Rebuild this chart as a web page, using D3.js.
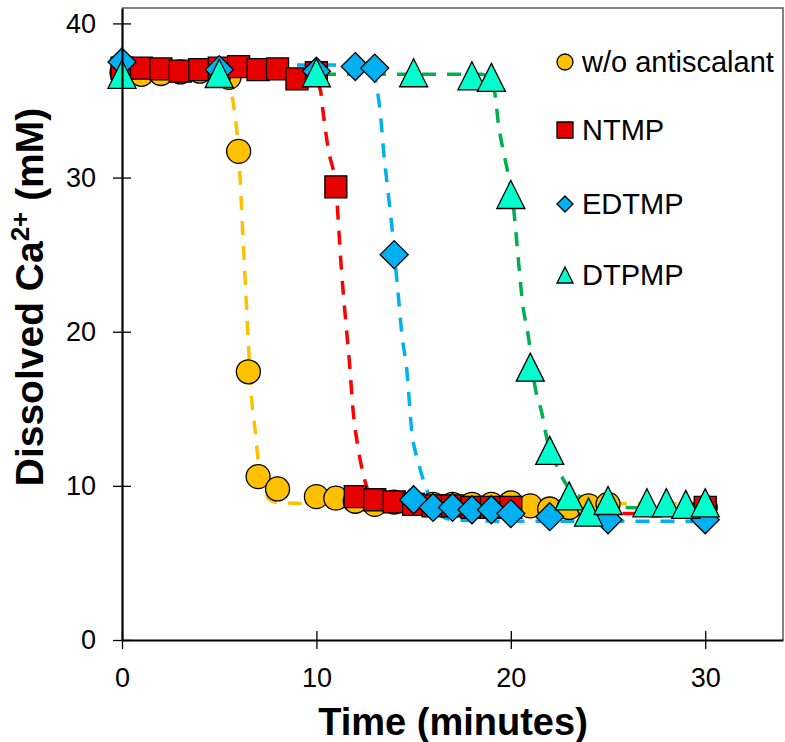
<!DOCTYPE html>
<html>
<head>
<meta charset="utf-8">
<script src="https://cdn.jsdelivr.net/npm/d3@7/dist/d3.min.js"></script>
<style>
  body { margin: 0; background: #fff; }
  svg { display: block; }
  text { font-family: "Liberation Sans", Arial, sans-serif; fill: #000; }
</style>
</head>
<body>
<svg id="chart" width="785" height="742"></svg>
<script>
// ---- data: dissolved Ca2+ (mM) vs time (minutes) ----
const seriesNames = ["w/o antiscalant", "NTMP", "EDTMP", "DTPMP"];
const seriesFill = ["#FFC000", "#E60000", "#00B0F0", "#00FFCC"];
const lineColors = ["#FFC000", "#FF0000", "#00B0F0", "#00B050"];

const xTicks = [0, 10, 20, 30];
const yTicks = [0, 10, 20, 30, 40];

// measured points
const blankTime = [0, 1, 2, 3, 4, 5, 5.5, 6, 6.5, 7, 8, 10, 11, 12, 13, 14, 15, 16, 17, 18, 19, 20, 21, 22, 23, 24, 25, 30];
const blankCa   = [36.8, 36.7, 36.75, 36.85, 36.9, 36.9, 36.5, 31.7, 17.4, 10.6, 9.8, 9.3, 9.2, 9.0, 8.8, 8.95, 8.9, 8.8, 8.8, 8.8, 8.8, 8.9, 8.7, 8.5, 8.6, 8.7, 8.8, 8.6];

const ntmpTime = [0, 1, 2, 3, 4, 5, 6, 7, 8, 9, 10, 11, 12, 13, 14, 15, 16, 17, 18, 19, 20, 30];
const ntmpCa   = [37.1, 37.1, 37.05, 36.9, 37.0, 37.1, 37.2, 37.0, 37.05, 36.4, 36.8, 29.4, 9.3, 9.1, 8.96, 8.8, 8.7, 8.7, 8.6, 8.6, 8.6, 8.6];

const edtmpTime = [0, 5, 10, 12, 13, 14, 15, 16, 17, 18, 19, 20, 22, 25, 30];
const edtmpCa   = [37.5, 37.0, 36.9, 37.2, 37.1, 25.0, 9.1, 8.6, 8.6, 8.45, 8.45, 8.2, 8.0, 7.8, 7.8];

const dtpmpTime = [0, 5, 10, 15, 18, 19, 20, 21, 22, 23, 24, 25, 27, 28, 29, 30];
const dtpmpCa   = [36.7, 36.75, 36.8, 36.8, 36.6, 36.5, 28.9, 17.7, 12.3, 9.35, 8.3, 9.05, 8.9, 8.9, 8.8, 8.9];

// fitted trend curves (dashed)
const blankFitTime = [0, 5, 5.5, 5.7, 6.0, 6.25, 6.5, 6.65, 6.85, 7.0, 7.3, 7.6, 8.1, 10, 15, 20, 30];
const blankFitCa   = [36.7, 36.7, 36.2, 35.0, 31.6, 25.5, 19.3, 15.9, 13.6, 11.7, 9.9, 9.1, 8.9, 8.85, 8.85, 8.85, 8.85];

const ntmpFitTime = [0, 9, 9.8, 10.2, 10.35, 10.6, 11.0, 11.3, 11.5, 11.7, 11.9, 12.1, 12.4, 12.8, 13.5, 15, 20, 30];
const ntmpFitCa   = [36.9, 36.9, 36.6, 35.7, 34.2, 31.9, 29.3, 23.8, 20.8, 18.0, 14.7, 12.8, 10.8, 9.3, 8.6, 8.3, 8.2, 8.2];

const edtmpFitTime = [0, 12, 12.8, 13.1, 13.3, 13.45, 13.7, 13.9, 14.2, 14.4, 14.65, 14.9, 15.25, 15.75, 16.3, 17, 20, 30];
const edtmpFitCa   = [37.3, 37.3, 37.0, 35.9, 34.0, 31.8, 28.9, 26.6, 22.5, 19.8, 17.5, 13.6, 11.5, 9.5, 8.2, 7.8, 7.7, 7.7];

const dtpmpFitTime = [0, 18.5, 19.0, 19.2, 19.35, 19.6, 19.85, 20.1, 20.4, 20.6, 20.9, 21.25, 21.6, 21.85, 22.4, 22.8, 23.9, 25.7, 30];
const dtpmpFitCa   = [36.7, 36.7, 36.2, 35.3, 33.6, 31.8, 30.3, 28.5, 24.5, 21.9, 19.7, 16.4, 14.7, 13.1, 11.2, 10.2, 9.1, 8.6, 8.5];

const zip = (xs, ys) => xs.map((t, i) => ({ t, v: ys[i] }));
const points = [zip(blankTime, blankCa), zip(ntmpTime, ntmpCa), zip(edtmpTime, edtmpCa), zip(dtpmpTime, dtpmpCa)];
const fits = [zip(blankFitTime, blankFitCa), zip(ntmpFitTime, ntmpFitCa), zip(edtmpFitTime, edtmpFitCa), zip(dtpmpFitTime, dtpmpFitCa)];

// ---- layout ----
const svg = d3.select("#chart");
const plot = { left: 122, right: 783, top: 8, bottom: 640 };
const x = d3.scaleLinear().domain([0, 34]).range([plot.left, plot.right]);
const y = d3.scaleLinear().domain([0, 41]).range([plot.bottom, plot.top]);

// frame (top and right)
svg.append("path")
  .attr("d", `M${plot.left},${plot.top}H${plot.right}V${plot.bottom}`)
  .attr("fill", "none").attr("stroke", "#595959").attr("stroke-width", 1.5);

// marker shapes
const shapes = [
  s => `M${-s},0A${s},${s} 0 1,0 ${s},0A${s},${s} 0 1,0 ${-s},0Z`,          // circle
  s => `M${-s},${-s}H${s}V${s}H${-s}Z`,                                        // square
  s => `M0,${-s}L${s},0L0,${s}L${-s},0Z`,                                      // diamond
  s => `M0,${-s}L${s},${s}L${-s},${s}Z`                                        // triangle
];
const plotSize = [12, 11, 14, 14];
const legendSize = [8, 8, 8, 8];

// dashed fit lines
const line = d3.line().x(d => x(d.t)).y(d => y(d.v)).curve(d3.curveMonotoneX);
svg.append("g").selectAll("path").data(fits).join("path")
  .attr("d", line)
  .attr("fill", "none")
  .attr("stroke", (d, i) => lineColors[i])
  .attr("stroke-width", 3.5)
  .attr("stroke-dasharray", "14,11");

// markers
points.forEach((pts, i) => {
  svg.append("g").selectAll("path").data(pts).join("path")
    .attr("transform", d => `translate(${x(d.t)},${y(d.v)})`)
    .attr("d", shapes[i](plotSize[i]))
    .attr("fill", seriesFill[i])
    .attr("stroke", "#000")
    .attr("stroke-width", 1.3);
});

// axes with ticks crossing the axis line
const xAxis = svg.append("g")
  .attr("transform", `translate(0,${plot.bottom})`)
  .call(d3.axisBottom(x).tickValues(xTicks).tickSize(9).tickSizeOuter(0).tickPadding(19));
xAxis.selectAll(".tick line").attr("y1", -9).attr("y2", 9).attr("stroke-width", 1.3);
xAxis.select(".domain").attr("stroke-width", 2.2);
xAxis.selectAll("text").attr("font-size", 27).attr("font-family", "Liberation Sans, Arial, sans-serif");

const yAxis = svg.append("g")
  .attr("transform", `translate(${plot.left},0)`)
  .call(d3.axisLeft(y).tickValues(yTicks).tickSize(9).tickSizeOuter(0).tickPadding(17));
yAxis.selectAll(".tick line").attr("x1", -9).attr("x2", 9).attr("stroke-width", 1.3);
yAxis.select(".domain").attr("stroke-width", 2.2);
yAxis.selectAll("text").attr("font-size", 27).attr("font-family", "Liberation Sans, Arial, sans-serif");

// axis titles
svg.append("text")
  .attr("x", 453).attr("y", 735)
  .attr("text-anchor", "middle")
  .attr("font-size", 38).attr("font-weight", "bold")
  .text("Time (minutes)");

const yTitle = svg.append("text")
  .attr("transform", "translate(43,297) rotate(-90)")
  .attr("text-anchor", "middle")
  .attr("font-size", 39).attr("font-weight", "bold");
yTitle.append("tspan").text("Dissolved Ca");
yTitle.append("tspan").attr("font-size", 26).attr("dy", -14).text("2+");
yTitle.append("tspan").attr("dy", 14).text(" (mM)");

// legend
const legendY = [62, 130, 204, 275];
const legend = svg.append("g");
seriesNames.forEach((name, i) => {
  legend.append("path")
    .attr("transform", `translate(565,${legendY[i]})`)
    .attr("d", shapes[i](legendSize[i]))
    .attr("fill", seriesFill[i]).attr("stroke", "#000").attr("stroke-width", 1.3);
  legend.append("text")
    .attr("x", 582).attr("y", legendY[i]).attr("dy", "0.36em")
    .attr("font-size", 29)
    .text(name);
});
</script>
</body>
</html>
